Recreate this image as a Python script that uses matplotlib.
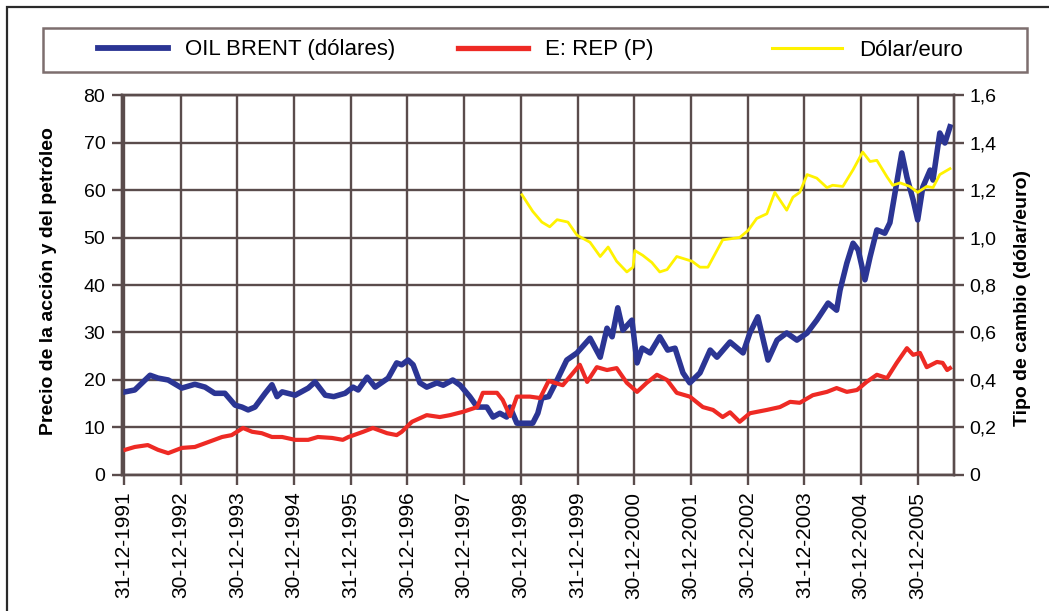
import matplotlib
matplotlib.use("Agg")
import matplotlib.pyplot as plt
from matplotlib.lines import Line2D
from matplotlib.patches import Rectangle

plt.rcParams["font.family"] = ["Liberation Sans", "DejaVu Sans"]

# Years (decimal) and values
brent_t = [1992.02, 1992.19, 1992.46, 1992.60, 1992.78, 1993.02, 1993.25, 1993.43, 1993.60, 1993.78,
           1993.96, 1994.08, 1994.19, 1994.31, 1994.49, 1994.61, 1994.70, 1994.79, 1995.02, 1995.25,
           1995.37, 1995.55, 1995.70, 1995.90, 1996.04, 1996.13, 1996.29, 1996.43, 1996.66, 1996.81,
           1996.90, 1997.01, 1997.10, 1997.22, 1997.34, 1997.52, 1997.63, 1997.80, 1997.93, 1998.10,
           1998.23, 1998.40, 1998.51, 1998.63, 1998.75, 1998.81, 1998.93, 1999.04, 1999.21, 1999.30,
           1999.37, 1999.49, 1999.64, 1999.81, 1999.99, 2000.22, 2000.40, 2000.52, 2000.61, 2000.71,
           2000.80, 2000.96, 2001.05, 2001.14, 2001.28, 2001.45, 2001.59, 2001.72, 2001.86, 2001.98,
           2002.16, 2002.34, 2002.46, 2002.69, 2002.92, 2003.04, 2003.18, 2003.36, 2003.52, 2003.69,
           2003.87, 2004.05, 2004.22, 2004.42, 2004.57, 2004.63, 2004.75, 2004.86, 2004.95, 2005.07,
           2005.16, 2005.28, 2005.42, 2005.51, 2005.63, 2005.72, 2005.81, 2005.92, 2006.00, 2006.09,
           2006.22, 2006.27, 2006.39, 2006.48, 2006.57]
brent_v = [17.5, 17.9, 21.0, 20.4, 20.0, 18.3, 19.1, 18.5, 17.2, 17.2,
           14.7, 14.3, 13.7, 14.3, 17.2, 19.0, 16.5, 17.5, 16.8, 18.3,
           19.6, 16.8, 16.5, 17.2, 18.5, 17.9, 20.6, 18.5, 20.4, 23.6,
           23.2, 24.2, 23.2, 19.4, 18.5, 19.4, 18.9, 20.0, 18.9, 16.5,
           14.3, 14.3, 12.2, 13.0, 12.2, 14.3, 10.9, 10.9, 10.9, 13.0,
           16.2, 16.5, 20.0, 24.2, 25.7, 28.8, 24.8, 30.9, 29.1, 35.2,
           30.5, 32.6, 23.6, 26.7, 25.7, 29.1, 26.3, 26.7, 21.5, 19.4,
           21.5, 26.3, 24.8, 28.0, 25.7, 29.9, 33.3, 24.2, 28.4, 29.9,
           28.4, 29.9, 32.6, 36.2, 34.7, 38.9, 44.6, 48.8, 47.4, 41.1,
           45.9, 51.6, 50.9, 53.1, 61.5, 67.8, 62.7, 57.9, 53.7, 60.6,
           64.2, 62.1, 72.0, 69.9, 73.3]

rep_t = [1992.02, 1992.19, 1992.42, 1992.60, 1992.78, 1993.02, 1993.25, 1993.48, 1993.73, 1993.90,
         1994.10, 1994.26, 1994.43, 1994.61, 1994.79, 1995.02, 1995.25, 1995.42, 1995.67, 1995.86,
         1995.96, 1996.22, 1996.39, 1996.64, 1996.81, 1996.90, 1997.08, 1997.34, 1997.57, 1997.75,
         1997.98, 1998.23, 1998.33, 1998.58, 1998.68, 1998.81, 1998.93, 1999.16, 1999.34, 1999.49,
         1999.74, 2000.04, 2000.17, 2000.34, 2000.52, 2000.69, 2000.87, 2001.05, 2001.22, 2001.40,
         2001.58, 2001.75, 2001.98, 2002.21, 2002.39, 2002.56, 2002.69, 2002.86, 2003.04, 2003.34,
         2003.57, 2003.75, 2003.92, 2004.15, 2004.40, 2004.57, 2004.75, 2004.93, 2005.10, 2005.28,
         2005.46, 2005.63, 2005.81, 2005.92, 2006.04, 2006.16, 2006.34, 2006.44, 2006.52, 2006.57]
rep_v = [5.3, 5.9, 6.3, 5.3, 4.6, 5.7, 5.9, 6.9, 8.0, 8.4,
         9.9, 9.1, 8.8, 8.0, 8.0, 7.4, 7.4, 8.0, 7.8, 7.4,
         8.0, 9.1, 9.9, 8.8, 8.4, 9.1, 11.2, 12.6, 12.2, 12.6,
         13.3, 14.3, 17.3, 17.3, 15.8, 12.4, 16.5, 16.5, 16.2, 19.8,
         18.9, 23.2, 19.6, 22.7, 22.1, 22.5, 19.4, 17.5, 19.4, 21.1,
         20.0, 17.3, 16.5, 14.3, 13.7, 12.2, 13.2, 11.2, 13.0, 13.7,
         14.3, 15.4, 15.2, 16.8, 17.5, 18.3, 17.5, 17.9, 19.6, 21.1,
         20.4, 23.6, 26.7, 25.3, 25.7, 22.7, 23.8, 23.6, 22.1, 22.5]

fx_t = [1999.02, 1999.21, 1999.37, 1999.51, 1999.64, 1999.83, 1999.99, 2000.22, 2000.40, 2000.54,
        2000.69, 2000.87, 2000.98, 2001.01, 2001.15, 2001.31, 2001.45, 2001.58, 2001.75, 2002.02,
        2002.16, 2002.30, 2002.56, 2002.86, 2003.01, 2003.16, 2003.34, 2003.48, 2003.69, 2003.80,
        2003.92, 2004.05, 2004.22, 2004.40, 2004.50, 2004.68, 2004.86, 2005.03, 2005.16, 2005.28,
        2005.46, 2005.56, 2005.69, 2005.86, 2006.00, 2006.16, 2006.27, 2006.39, 2006.57]
fx_v = [1.18, 1.11, 1.065, 1.045, 1.075, 1.065, 1.01, 0.98, 0.92, 0.96,
        0.90, 0.855, 0.875, 0.945, 0.925, 0.895, 0.855, 0.865, 0.92, 0.90,
        0.875, 0.875, 0.99, 1.0, 1.03, 1.08, 1.10, 1.19, 1.115, 1.17,
        1.19, 1.265, 1.25, 1.21, 1.22, 1.215, 1.285, 1.36, 1.32, 1.325,
        1.255, 1.22, 1.23, 1.215, 1.19, 1.215, 1.21, 1.265, 1.29]

x_ticks = list(range(1992, 2007))
x_labels = ["31-12-1991", "30-12-1992", "30-12-1993", "30-12-1994", "31-12-1995",
            "30-12-1996", "30-12-1997", "30-12-1998", "31-12-1999", "30-12-2000",
            "30-12-2001", "30-12-2002", "31-12-2003", "30-12-2004", "30-12-2005"]
left_ticks = list(range(0, 90, 10))
right_ticks = [0, 0.2, 0.4, 0.6, 0.8, 1.0, 1.2, 1.4, 1.6]
right_labels = ["0", "0,2", "0,4", "0,6", "0,8", "1,0", "1,2", "1,4", "1,6"]

BLUE = "#2b3594"
RED = "#ee2a24"
YELLOW = "#fff200"
GRID = "#5a4c4c"

fig = plt.figure(figsize=(10.49, 6.11), dpi=100)
ax = fig.add_axes([0.1163, 0.2226, 0.7931, 0.6219])
ax2 = ax.twinx()

ax.plot(brent_t, brent_v, color=BLUE, lw=4.0, solid_joinstyle="round")
ax.plot(rep_t, rep_v, color=RED, lw=3.0, solid_joinstyle="round")
ax2.plot(fx_t, fx_v, color=YELLOW, lw=2.0)

ax.set_xlim(1991.965, 2006.64)
ax.set_ylim(0, 80)
ax2.set_ylim(0, 1.6)

ax.set_xticks(x_ticks)
ax.set_xticklabels(x_labels, rotation=90, fontsize=15)
ax.set_yticks(left_ticks)
ax.set_yticklabels([str(v) for v in left_ticks], fontsize=14)
ax2.set_yticks(right_ticks)
ax2.set_yticklabels(right_labels, fontsize=14)

ax.grid(True, color=GRID, lw=1.7)
ax.set_axisbelow(True)
for a in (ax, ax2):
    for s in a.spines.values():
        s.set_color(GRID)
        s.set_linewidth(1.7)
ax.tick_params(axis="both", length=7, width=1.7, color=GRID, pad=5)
ax2.tick_params(axis="y", length=7, width=1.7, color=GRID, pad=4)

ax.set_ylabel("Precio de la acción y del petróleo", fontsize=14, fontweight="bold")
ax.yaxis.set_label_coords(-0.078, 0.51)
ax2.set_ylabel("Tipo de cambio (dólar/euro)", fontsize=14, fontweight="bold")
ax2.yaxis.set_label_coords(1.072, 0.466)

# legend: frame box plus three entries at their own positions
fig.patches.append(Rectangle((43 / 1049, 1 - 72 / 611), 984 / 1049, 44 / 611,
                             transform=fig.transFigure, fill=False,
                             edgecolor="#7d6e6e", lw=1.8))
entries = [(BLUE, 4.2, "OIL BRENT (dólares)", 98 / 1049),
           (RED, 3.8, "E: REP (P)", 458 / 1049),
           (YELLOW, 2.2, "Dólar/euro", 772 / 1049)]
for color, lw, label, xpos in entries:
    h = Line2D([], [], color=color, lw=lw)
    fig.legend([h], [label], loc="center left", bbox_to_anchor=(xpos, 1 - 50 / 611),
               frameon=False, fontsize=16, borderpad=0, borderaxespad=0,
               handlelength=3.15, handletextpad=0.75)

# outer frame (left and top edges only visible)
fig.patches.append(Rectangle((7 / 1049, -0.2), 1.5, 1.2 - 7 / 611,
                             transform=fig.transFigure, fill=False,
                             edgecolor="#2a2a2a", lw=1.6))

fig.savefig("out.png", dpi=100)
